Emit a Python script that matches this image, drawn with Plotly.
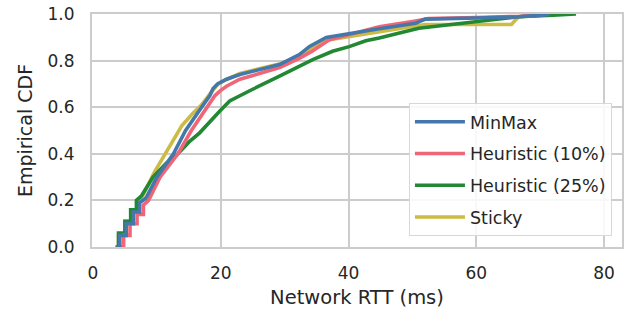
import plotly.graph_objects as go

# ---- data (ECDF knots) ----
minmax_x = [3.5, 4.2, 4.2, 5.2, 5.2, 6.3, 6.3, 7.3, 7.3, 8.3, 10.0, 12.6, 14.5, 15.7, 17.0, 18.3, 18.8, 19.5, 20.9, 23.0, 26.0, 29.2, 32.3, 33.9, 36.5, 40.1, 44.8, 50.5, 52.0, 60.0, 66.6, 70.7, 71.5]
minmax_y = [0.0, 0.0, 0.05, 0.05, 0.10, 0.10, 0.15, 0.15, 0.19, 0.21, 0.30, 0.40, 0.50, 0.55, 0.60, 0.65, 0.68, 0.70, 0.72, 0.74, 0.76, 0.783, 0.826, 0.861, 0.899, 0.917, 0.937, 0.96, 0.978, 0.983, 0.988, 0.996, 1.0]

heur10_x = [4.3, 4.8, 4.8, 5.8, 5.8, 6.9, 6.9, 7.9, 7.9, 8.7, 10.5, 13.3, 15.4, 17.8, 19.1, 19.9, 20.9, 23.0, 26.0, 29.2, 32.3, 34.3, 37.0, 40.1, 44.8, 50.5, 52.5, 60.0, 67.0, 70.5, 71.0]
heur10_y = [0.0, 0.0, 0.05, 0.05, 0.10, 0.10, 0.14, 0.14, 0.18, 0.20, 0.30, 0.40, 0.50, 0.60, 0.65, 0.67, 0.69, 0.72, 0.745, 0.77, 0.81, 0.84, 0.889, 0.91, 0.945, 0.97, 0.98, 0.985, 0.99, 0.997, 1.0]

heur25_x = [3.8, 4.0, 4.0, 5.0, 5.0, 5.9, 5.9, 6.8, 6.8, 7.6, 9.4, 11.5, 13.3, 15.0, 16.7, 18.5, 19.9, 21.4, 23.0, 25.0, 29.2, 34.4, 37.5, 40.1, 42.7, 44.8, 51.0, 57.7, 66.6, 72.0, 75.6]
heur25_y = [0.0, 0.0, 0.06, 0.06, 0.11, 0.11, 0.16, 0.16, 0.20, 0.22, 0.30, 0.36, 0.40, 0.45, 0.49, 0.545, 0.585, 0.627, 0.65, 0.677, 0.733, 0.804, 0.84, 0.86, 0.885, 0.897, 0.939, 0.96, 0.988, 0.995, 1.0]

sticky_x = [3.6, 4.0, 4.0, 5.0, 5.0, 6.0, 6.0, 7.0, 7.0, 7.8, 9.6, 12.0, 13.9, 15.5, 17.0, 18.4, 19.6, 21.0, 23.0, 26.0, 29.2, 32.5, 34.5, 37.0, 41.7, 45.0, 50.0, 52.0, 57.7, 65.5, 66.6, 70.0, 71.0]
sticky_y = [0.0, 0.0, 0.05, 0.05, 0.11, 0.11, 0.16, 0.16, 0.20, 0.22, 0.32, 0.43, 0.52, 0.57, 0.61, 0.66, 0.70, 0.72, 0.745, 0.765, 0.785, 0.82, 0.86, 0.89, 0.91, 0.925, 0.945, 0.955, 0.955, 0.955, 0.988, 0.995, 1.0]

series_names = ["MinMax", "Heuristic (10%)", "Heuristic (25%)", "Sticky"]
series_colors = ["#4477AA", "#EE6677", "#228833", "#CCBB44"]

x_ticks = [0, 20, 40, 60, 80]
y_ticks = [0.0, 0.2, 0.4, 0.6, 0.8, 1.0]
y_tick_labels = ["0.0", "0.2", "0.4", "0.6", "0.8", "1.0"]

FONT = "DejaVu Sans, sans-serif"
TXT = "#262626"

data = [(minmax_x, minmax_y), (heur10_x, heur10_y), (heur25_x, heur25_y), (sticky_x, sticky_y)]

fig = go.Figure()
# draw in reverse so MinMax is on top; legend order via legendrank
for i in reversed(range(4)):
    xs, ys = data[i]
    fig.add_trace(go.Scatter(
        x=xs, y=ys, mode="lines", name=series_names[i],
        legendgroup=series_names[i], legendrank=i + 1,
        line=dict(color=series_colors[i], width=3.6),
    ))

fig.update_layout(
    width=628, height=322,
    margin=dict(l=92, r=4, t=12, b=75),
    paper_bgcolor="white", plot_bgcolor="white",
    font=dict(family=FONT, size=17, color=TXT),
    showlegend=True,
    legend=dict(
        x=0.981, y=0.048, xanchor="right", yanchor="bottom",
        traceorder="grouped", tracegroupgap=6, itemwidth=50,
        bgcolor="rgba(255,255,255,0.85)", bordercolor="#d8d8d8", borderwidth=1,
        font=dict(family=FONT, size=17.5, color=TXT),
    ),
)
fig.update_xaxes(
    range=[-0.15, 82.8], tickvals=x_ticks,
    showgrid=True, gridcolor="#cccccc", gridwidth=1.5,
    showline=True, linecolor="#cccccc", linewidth=2, mirror=True,
    zeroline=False, ticks="", ticklabelstandoff=10,
    tickfont=dict(size=17, color=TXT),
    title=dict(text="Network RTT (ms)", font=dict(size=19.5, color=TXT), standoff=8),
)
fig.update_yaxes(
    range=[0, 1], tickvals=y_ticks, ticktext=y_tick_labels,
    showgrid=True, gridcolor="#cccccc", gridwidth=1.5,
    showline=True, linecolor="#cccccc", linewidth=2, mirror=True,
    zeroline=False, ticks="", ticklabelstandoff=12,
    tickfont=dict(size=17, color=TXT),
    title=dict(text="Empirical CDF", font=dict(size=19, color=TXT), standoff=10),
)

fig.write_html("out.html")
